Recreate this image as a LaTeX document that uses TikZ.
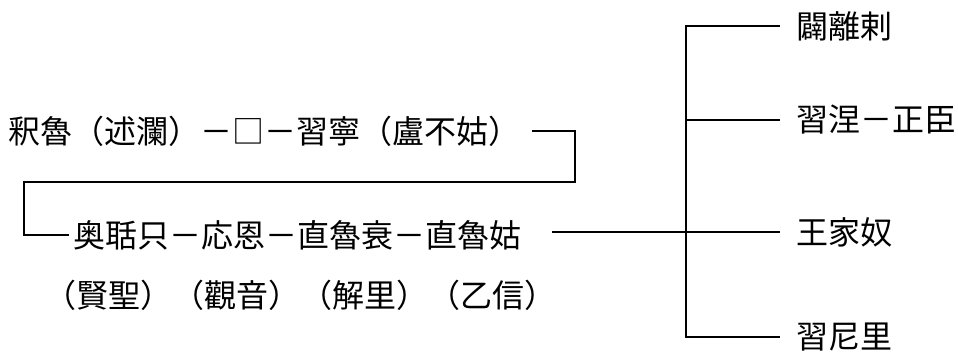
\documentclass[tikz,border=0pt]{standalone}
\usepackage{fontspec}
\newfontfamily\jp{Noto Sans CJK JP}
\begin{document}
\begin{tikzpicture}[x=1pt,y=-1pt,
  lbl/.style={anchor=west,inner sep=0pt,font=\jp\fontsize{32}{32}\selectfont},
  ln/.style={line width=1.5pt,black}]
\useasboundingbox (0,0) rectangle (958,353);
\fill[white] (0,0) rectangle (958,353);
% left rows
\node[lbl] (r1) at (8,131) {釈魯（述瀾）－□－習寧（盧不姑）};
\node[lbl] (r2) at (73,235) {奥聒只－応恩－直魯衰－直魯姑};
\node[lbl] (r3) at (44,295) {（賢聖）（觀音）（解里）（乙信）};
% right column
\node[lbl] (c1) at (796,26) {闢離剌};
\node[lbl] (c2) at (796,120) {習涅－正臣};
\node[lbl] (c3) at (796,232) {王家奴};
\node[lbl] (c4) at (796,337) {習尼里};
% connector coordinates
\coordinate (k1) at (575,131);
\coordinate (k2) at (575,182);
\coordinate (k3) at (24,182);
\coordinate (k4) at (24,235);
\coordinate (s2) at (552,232);
\coordinate (b1) at (686,26);
\coordinate (b2) at (686,120);
\coordinate (b3) at (686,232);
\coordinate (b4) at (686,337);
\draw[ln] ([xshift=12pt]r1.east) -- (k1) -- (k2) -- (k3) -- (k4) -- ([xshift=-4pt]r2.west);
\draw[ln] (s2) -- ([xshift=-16pt]c3.west);
\draw[ln] ([xshift=-16pt]c1.west) -- (b1) -- (b4) -- ([xshift=-16pt]c4.west);
\draw[ln] (b2) -- ([xshift=-16pt]c2.west);
\end{tikzpicture}
\end{document}
